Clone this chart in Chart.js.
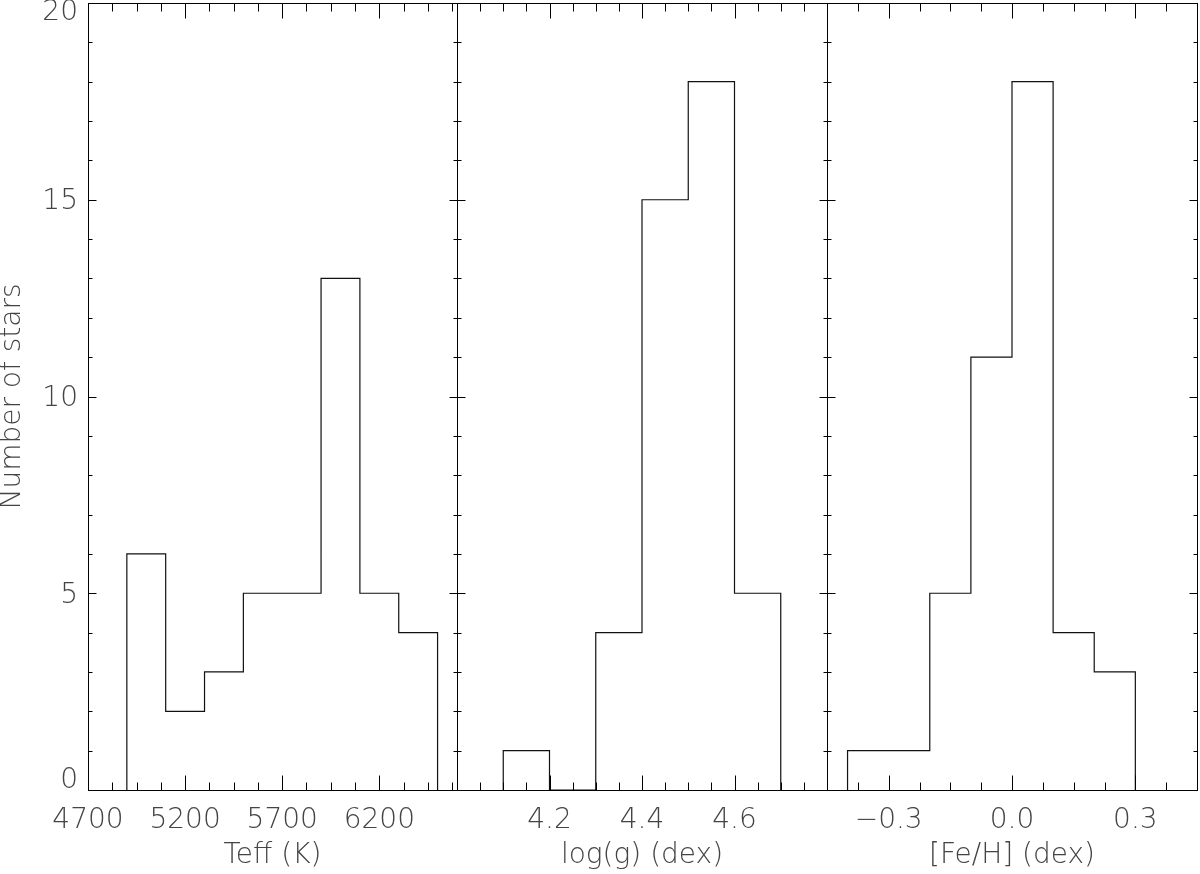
<!DOCTYPE html>
<html>
<head>
<meta charset="utf-8">
<script src="https://cdn.jsdelivr.net/npm/chart.js@4.4.0/dist/chart.umd.min.js"></script>
<style>
  body { margin: 0; background: #fff; }
  #wrap { position: relative; width: 1200px; height: 874px; }
  #wrap canvas { position: absolute; left: 0; top: 0; }
</style>
</head>
<body>
<div id="wrap">
  <canvas id="teff" width="1200" height="874"></canvas>
  <canvas id="logg" width="1200" height="874"></canvas>
  <canvas id="feh" width="1200" height="874"></canvas>
</div>
<script>
// histogram bins: bin edges and number of stars in each bin
var teffEdges = [4900, 5100, 5300, 5500, 5700, 5900, 6100, 6300, 6500];
var teffCounts = [6, 2, 3, 5, 5, 13, 5, 4];
var loggEdges = [4.1, 4.2, 4.3, 4.4, 4.5, 4.6, 4.7];
var loggCounts = [1, 0, 4, 15, 18, 5];
var fehEdges = [-0.4, -0.3, -0.2, -0.1, 0.0, 0.1, 0.2, 0.3];
var fehCounts = [1, 1, 5, 11, 18, 4, 3];

// labelled ticks
var teffTicks = [4700, 5200, 5700, 6200];
var teffTickLabels = ['4700', '5200', '5700', '6200'];
var loggTicks = [4.2, 4.4, 4.6];
var loggTickLabels = ['4.2', '4.4', '4.6'];
var fehTicks = [-0.3, 0.0, 0.3];
var fehTickLabels = ['\u22120.3', '0.0', '0.3'];
var countTicks = [0, 5, 10, 15, 20];
var countTickLabels = ['0', '5', '10', '15', '20'];

var textColor = '#444';
var family = '"DejaVu Sans", sans-serif';

function stepPoints(edges, counts) {
  var pts = [{x: edges[0], y: 0}];
  for (var i = 0; i < counts.length; i++) {
    pts.push({x: edges[i], y: counts[i]});
  }
  pts.push({x: edges[edges.length - 1], y: 0});
  return pts;
}

// walk minor ticks of a scale, flag every n-th one as major
function eachTick(scale, t, fn) {
  var k0 = Math.ceil((scale.min - t.anchor) / t.minor - 1e-6);
  var k1 = Math.floor((scale.max - t.anchor) / t.minor + 1e-6);
  for (var k = k0; k <= k1; k++) {
    var px = Math.round(scale.getPixelForValue(t.anchor + k * t.minor)) + 0.5;
    fn(px, ((k % t.every) + t.every) % t.every === 0);
  }
}

// box round the plot with inward ticks on all four sides
var idlFrame = {
  id: 'idlFrame',
  afterDraw: function(chart, args, opts) {
    var ctx = chart.ctx, a = chart.chartArea;
    var xs = chart.scales.x, ys = chart.scales.y;
    var l = Math.round(a.left) + 0.5, r = Math.round(a.right) + 0.5;
    var t = Math.round(a.top) + 0.5, b = Math.round(a.bottom) + 0.5;
    ctx.save();
    ctx.strokeStyle = '#000';
    ctx.lineWidth = 1;
    ctx.strokeRect(l, t, r - l, b - t);
    ctx.beginPath();
    eachTick(xs, opts.x, function(px, major) {
      var len = major ? 15 : 8;
      ctx.moveTo(px, b); ctx.lineTo(px, b - len);
      ctx.moveTo(px, t); ctx.lineTo(px, t + len);
    });
    eachTick(ys, opts.y, function(py, major) {
      var len = major ? 8 : 4;
      ctx.moveTo(l, py); ctx.lineTo(l + len, py);
      ctx.moveTo(r, py); ctx.lineTo(r - len, py);
    });
    ctx.stroke();
    ctx.restore();
  }
};

function makeChart(id, edges, counts, xMin, xMax, ticks, labels, title, minor, pad, first) {
  return new Chart(document.getElementById(id), {
    type: 'line',
    data: {
      datasets: [{
        data: stepPoints(edges, counts),
        stepped: true,
        borderColor: '#111',
        borderWidth: 1.2,
        pointRadius: 0,
        fill: false
      }]
    },
    options: {
      responsive: false,
      devicePixelRatio: 1,
      animation: false,
      events: [],
      layout: { padding: pad },
      plugins: {
        legend: { display: false },
        tooltip: { enabled: false },
        idlFrame: { x: minor, y: { anchor: 0, minor: 1, every: 5 } }
      },
      scales: {
        x: {
          type: 'linear',
          min: xMin,
          max: xMax,
          grid: { display: false, drawTicks: false },
          border: { display: false },
          afterBuildTicks: function(s) {
            s.ticks = ticks.map(function(v) { return {value: v}; });
          },
          ticks: {
            padding: 14,
            autoSkip: false,
            maxRotation: 0,
            color: textColor,
            font: { family: family, size: 28, weight: 200 },
            callback: function(v, i) { return labels[i]; }
          },
          title: {
            display: true,
            text: title,
            color: textColor,
            padding: 0,
            font: { family: family, size: 28, weight: 200, lineHeight: 1.29 }
          },
          afterFit: function(s) {
            s.height = 84;
            s.paddingLeft = 0;
            s.paddingRight = 0;
          }
        },
        y: {
          type: 'linear',
          min: 0,
          max: 20,
          display: first,
          grid: { display: false, drawTicks: false },
          border: { display: false },
          afterBuildTicks: function(s) {
            s.ticks = countTicks.map(function(v) { return {value: v}; });
          },
          ticks: {
            padding: 10,
            labelOffset: 2,
            color: textColor,
            font: function(c) {
              var lh = 1.2;
              if (c.index === 0) lh = 0.79;
              if (c.index === countTicks.length - 1) lh = 0.54;
              return { family: family, size: 28, weight: 200, lineHeight: lh };
            },
            // end labels are nudged inside the frame
            callback: function(v, i) {
              if (i === 0) return [countTickLabels[i], ''];
              if (i === countTicks.length - 1) return ['', countTickLabels[i]];
              return countTickLabels[i];
            }
          },
          title: {
            display: true,
            text: 'Number of stars',
            color: textColor,
            padding: 0,
            font: { family: family, size: 28, weight: 200, lineHeight: 0.93 }
          },
          afterFit: function(s) {
            s.width = first ? 88 : 0;
            s.paddingTop = 0;
            s.paddingBottom = 0;
          }
        }
      }
    },
    plugins: [idlFrame]
  });
}

makeChart('teff', teffEdges, teffCounts, 4700, 6600, teffTicks, teffTickLabels, 'Teff (K)',
  { anchor: 4700, minor: 125, every: 4 }, { left: 0, top: 3, right: 743, bottom: 0 }, true);
makeChart('logg', loggEdges, loggCounts, 4.0, 4.8, loggTicks, loggTickLabels, 'log(g) (dex)',
  { anchor: 4.2, minor: 0.05, every: 4 }, { left: 457, top: 3, right: 373, bottom: 0 }, false);
makeChart('feh', fehEdges, fehCounts, -0.45, 0.45, fehTicks, fehTickLabels, '[Fe/H] (dex)',
  { anchor: 0, minor: 0.075, every: 4 }, { left: 827, top: 3, right: 3, bottom: 0 }, false);
</script>
</body>
</html>
